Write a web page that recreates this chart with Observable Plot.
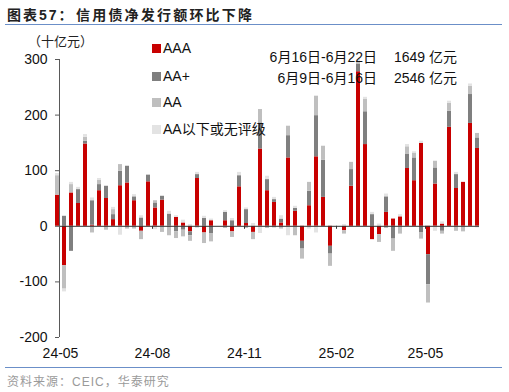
<!DOCTYPE html>
<html>
<head>
<meta charset="utf-8">
<script src="https://cdn.jsdelivr.net/npm/d3@7"></script>
<script src="https://cdn.jsdelivr.net/npm/@observablehq/plot@0.6"></script>
<style>
  html, body { margin: 0; padding: 0; background: #fff; }
  #wrap { position: relative; width: 509px; height: 392px; overflow: hidden; background: #fff; }
  #chart { position: absolute; left: 0; top: 30px; }
  #overlay { position: absolute; left: 0; top: 0; pointer-events: none; }
</style>
</head>
<body>
<div id="wrap">
  <div id="chart"></div>
  <svg id="overlay" width="509" height="392"></svg>
</div>
<script>
// ---- data (十亿元), weekly, dated by week-ending Sunday ----
const weeks = [
  "2024-04-28","2024-05-05","2024-05-12","2024-05-19","2024-05-26","2024-06-02","2024-06-09","2024-06-16",
  "2024-06-23","2024-06-30","2024-07-07","2024-07-14","2024-07-21","2024-07-28","2024-08-04","2024-08-11",
  "2024-08-18","2024-08-25","2024-09-01","2024-09-08","2024-09-15","2024-09-22","2024-09-29","2024-10-06",
  "2024-10-13","2024-10-20","2024-10-27","2024-11-03","2024-11-10","2024-11-17","2024-11-24","2024-12-01",
  "2024-12-08","2024-12-15","2024-12-22","2024-12-29","2025-01-05","2025-01-12","2025-01-19","2025-01-26",
  "2025-02-02","2025-02-09","2025-02-16","2025-02-23","2025-03-02","2025-03-09","2025-03-16","2025-03-23",
  "2025-03-30","2025-04-06","2025-04-13","2025-04-20","2025-04-27","2025-05-04","2025-05-11","2025-05-18",
  "2025-05-25","2025-06-01","2025-06-08","2025-06-15","2025-06-22"
];
const AAA = [56,-71,60,41,148,2,64,50,12,73,78,46,-9,80,33,47,0,16,6,-10,86,-12,10,0,10,-10,71,5,-11,139,64,43,6,123,27,-27,37,125,52,-36,0,-8,72,278,147,-24,-15,25,13,17,104,82,149,-51,76,4,178,68,79,185,140];
const AAplus = [0,18,-45,25,5,44,11,22,9,26,30,7,15,12,9,7,22,-10,-7,-7,7,14,-13,0,15,10,20,25,0,47,20,5,7,40,5,-14,26,74,67,-14,0,0,30,14,59,21,0,28,-23,0,26,41,-12,-54,29,-9,29,25,0,52,19];
const AA = [35,-42,15,0,7,-12,8,-7,9,12,-5,-5,-15,0,4,-11,-17,-12,-12,-10,-3,-19,-15,0,-4,-10,0,-4,-13,24,-4,-3,-5,17,-17,-18,16,35,25,-22,0,-6,13,5,22,0,-14,-4,-22,-14,13,8,-11,-33,12,-5,14,-9,-10,15,8];
const belowAA = [4,-5,4,4,5,5,3,0,4,-16,0,4,4,0,-6,0,5,3,5,3,4,4,3,0,3,4,6,3,5,-13,6,4,6,-17,4,0,-5,-12,0,0,0,3,0,3,4,4,4,5,0,4,4,3,4,0,-9,4,4,4,0,4,-3];

const seriesNames = ["AAA", "AA+", "AA", "AA以下或无评级"];
const seriesColors = ["#c80000", "#7f7f7f", "#bfbfbf", "#e3e3e3"];
const yTicks = [-200, -100, 0, 100, 200, 300];
const tickDates = ["2024-05-01", "2024-08-01", "2024-11-01", "2025-02-01", "2025-05-01"];
const tickLabels = ["24-05", "24-08", "24-11", "25-02", "25-05"];
const annotationPeriods = ["6月16日-6月22日", "6月9日-6月16日"];
const annotationValues = ["1649 亿元", "2546 亿元"];
const unitLabel = "（十亿元）";
const titlePrefix = "图表57：";
const titleText = "信用债净发行额环比下降";
const sourceText = "资料来源：CEIC，华泰研究";

// ---- build table ----
const parse = d3.utcParse("%Y-%m-%d");
const seriesValues = [AAA, AAplus, AA, belowAA];
const table = weeks.flatMap((w, i) =>
  seriesValues.map((vals, j) => ({date: parse(w), series: seriesNames[j], value: vals[i]}))
).filter(d => d.value !== 0);

const xStart = parse("2024-04-30");
const xEnd = parse("2025-06-25");
const zeroEnd = parse("2025-06-24");
const tickD = tickDates.map(parse);
const labelOf = new Map(tickD.map((d, i) => [+d, tickLabels[i]]));

const chart = Plot.plot({
  width: 509,
  height: 335,
  marginLeft: 59,
  marginRight: 29,
  marginTop: 29,
  marginBottom: 28,
  style: {fontFamily: "'Liberation Sans', Arial, sans-serif", fontSize: "14px", background: "transparent", color: "#111", overflow: "visible"},
  x: {type: "utc", domain: [xStart, xEnd]},
  y: {domain: [-200, 300]},
  color: {domain: seriesNames, range: seriesColors},
  marks: [
    Plot.rectY(table, {
      x1: d => d3.utcDay.offset(d.date, -2),
      x2: d => d3.utcDay.offset(d.date, 2),
      y: "value",
      fill: "series",
      order: seriesNames
    }),
    Plot.ruleY([0], {x1: xStart, x2: zeroEnd, stroke: "#333", strokeWidth: 1}),
    Plot.ruleX(tickD.slice(1), {y1: 0, y2: 0, insetBottom: -3, stroke: "#333"}),
    Plot.ruleX([xStart], {y1: -200, y2: 300, stroke: "#595959"}),
    Plot.axisY({ticks: yTicks, tickSize: 4, tickPadding: 8, stroke: "#595959", fill: "#111", tickFormat: d => String(d), label: null, fontSize: 14}),
    Plot.axisX({ticks: tickD, tickSize: 0, tickPadding: 11, fill: "#111", tickFormat: d => labelOf.get(+d), label: null, fontSize: 14})
  ]
});
document.getElementById("chart").appendChild(chart);

// ---- overlay texts (title, unit, legend, annotation, source) ----
const ov = d3.select("#overlay");
const latin = "'Liberation Sans', 'Noto Sans CJK SC', sans-serif";

ov.append("text").attr("x", 7).attr("y", 20)
  .attr("font-family", latin).attr("font-size", 14).attr("font-weight", "bold")
  .attr("letter-spacing", 2).attr("fill", "#222").text(titlePrefix);
ov.append("text").attr("x", 76).attr("y", 20)
  .attr("font-family", latin).attr("font-size", 14).attr("font-weight", "bold")
  .attr("letter-spacing", 2.2).attr("fill", "#222").text(titleText);
ov.append("rect").attr("x", 5).attr("y", 24).attr("width", 497).attr("height", 1).attr("fill", "#6b8fc8");
ov.append("rect").attr("x", 5).attr("y", 367).attr("width", 497).attr("height", 1).attr("fill", "#6b8fc8");
ov.append("text").attr("x", 7).attr("y", 386)
  .attr("font-family", latin).attr("font-size", 12).attr("letter-spacing", 1)
  .attr("fill", "#9a9a9a").text(sourceText);

ov.append("text").attr("x", 28).attr("y", 46)
  .attr("font-family", "'Noto Sans CJK SC', sans-serif").attr("font-size", 13)
  .attr("fill", "#222").text(unitLabel);

const legendBaselines = [53, 81, 107, 134];
seriesNames.forEach((name, i) => {
  ov.append("rect").attr("x", 152).attr("y", legendBaselines[i] - 9).attr("width", 9).attr("height", 9).attr("fill", seriesColors[i]);
  ov.append("text").attr("x", 163).attr("y", legendBaselines[i])
    .attr("font-family", latin).attr("font-size", 14).attr("fill", "#111").text(name);
});

const annBaselines = [62, 83];
annotationPeriods.forEach((t, i) => {
  ov.append("text").attr("x", 377).attr("y", annBaselines[i]).attr("text-anchor", "end")
    .attr("font-family", latin).attr("font-size", 14).attr("fill", "#111").text(t);
  ov.append("text").attr("x", 457).attr("y", annBaselines[i]).attr("text-anchor", "end")
    .attr("font-family", latin).attr("font-size", 14).attr("fill", "#111").text(annotationValues[i]);
});
</script>
</body>
</html>
